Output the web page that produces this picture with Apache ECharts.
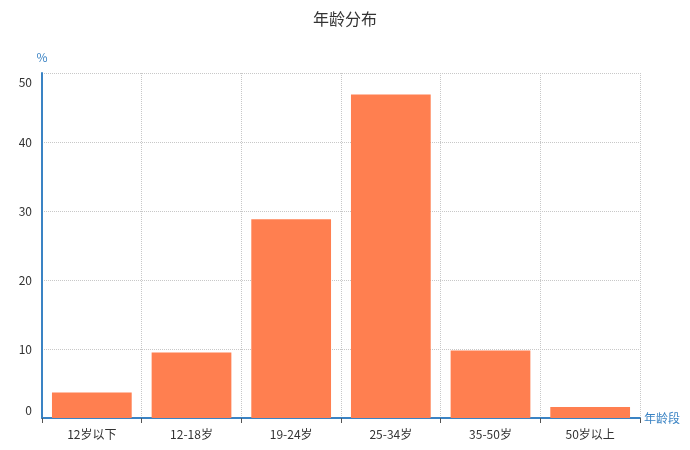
<!DOCTYPE html>
<html>
<head>
<meta charset="utf-8">
<script src="https://cdn.jsdelivr.net/npm/echarts@6/dist/echarts.min.js"></script>
<style>
    html, body { margin: 0; padding: 0; background: #fff; }
    #main { width: 690px; height: 450px; }
</style>
</head>
<body>
<div id="main"></div>
<script>
// 年龄分布数据
var ageGroups = ['12岁以下', '12-18岁', '19-24岁', '25-34岁', '35-50岁', '50岁以上'];
var agePercent = [3.7, 9.5, 28.8, 46.9, 9.8, 1.6];
var yTicks = [0, 10, 20, 30, 40, 50];

var myChart = echarts.init(document.getElementById('main'));
var axisBlue = '#3a83c4';
var font = '"Noto Sans CJK SC", "Microsoft YaHei", sans-serif';

option = {
    textStyle: { fontFamily: font },
    title: {
        text: '年龄分布',
        left: 'center',
        top: 6,
        textStyle: { fontSize: 16, fontWeight: 'normal', color: '#333', fontFamily: font }
    },
    grid: {
        left: 42,
        right: 50,
        top: 73,
        bottom: 32,
        show: false
    },
    xAxis: [{
        type: 'category',
        data: ageGroups,
        name: '年龄段',
        nameGap: 4,
        nameTextStyle: { color: axisBlue, fontSize: 12 },
        axisLine: { lineStyle: { color: axisBlue, width: 2 } },
        axisTick: { show: true, length: 5, lineStyle: { color: '#555' } },
        axisLabel: { color: '#333', fontSize: 12, margin: 10 },
        splitLine: { show: true, lineStyle: { color: '#c8c8c8', type: 'dotted' } }
    }],
    yAxis: [{
        type: 'value',
        name: '%',
        nameGap: 10,
        nameTextStyle: { color: axisBlue, fontSize: 12, align: 'center' },
        min: yTicks[0],
        max: yTicks[yTicks.length - 1],
        interval: 10,
        axisLine: { show: true, lineStyle: { color: axisBlue, width: 2 } },
        axisTick: { show: false },
        axisLabel: {
            color: '#333',
            fontSize: 12,
            margin: 10,
            // 首尾刻度标签收进坐标区内
            formatter: function (v) {
                if (v === yTicks[yTicks.length - 1]) return '{top|' + v + '}';
                if (v === yTicks[0]) return '{bottom|' + v + '}';
                return v;
            },
            rich: {
                top: { color: '#333', fontSize: 12, padding: [18, 0, 0, 0] },
                bottom: { color: '#333', fontSize: 12, padding: [0, 0, 16, 0] }
            }
        },
        splitLine: { show: true, lineStyle: { color: '#c8c8c8', type: 'dotted' } }
    }],
    series: [{
        name: '年龄分布',
        type: 'bar',
        barCategoryGap: '20%',
        itemStyle: { color: '#ff7f50' },
        data: agePercent
    }]
};
myChart.setOption(option);
</script>
</body>
</html>
